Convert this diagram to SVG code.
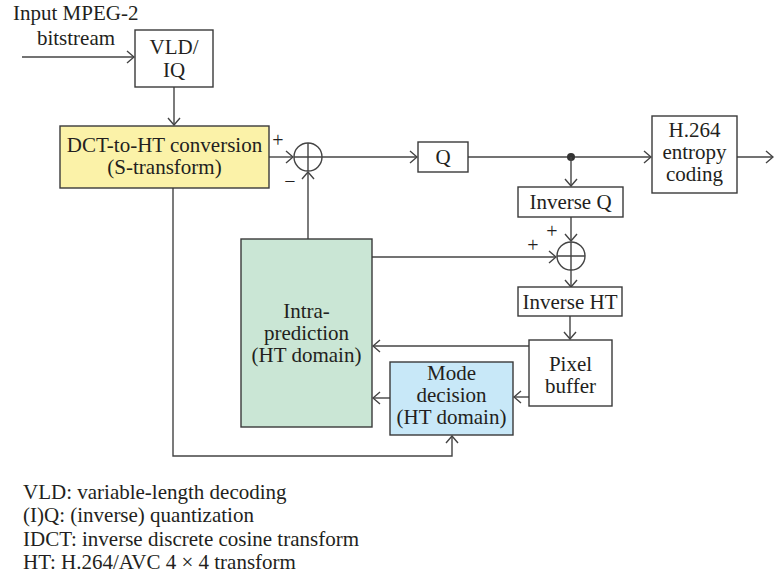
<svg xmlns="http://www.w3.org/2000/svg" width="774" height="581" viewBox="0 0 774 581">
<defs>
<style>
.box{stroke:#3a3a3a;stroke-width:1.4;fill:#fff}
.yellow{fill:#fbf2a8}
.green{fill:#cae6d5}
.blue{fill:#c8e8f8}
.ln{stroke:#444;stroke-width:1.4;fill:none}
.lna{stroke:#444;stroke-width:1.4;fill:none;marker-end:url(#arr)}
text{font-family:"Liberation Serif","Times New Roman",serif;font-size:21px;fill:#231f20}
.c{text-anchor:middle}
.s{font-size:20px}
</style>
<marker id="arr" markerUnits="userSpaceOnUse" viewBox="-9 -8 10 16" refX="0" refY="0" markerWidth="10" markerHeight="16" orient="auto">
<path d="M-7,-6 L0,0 L-7,6" fill="none" stroke="#444" stroke-width="1.4"/>
</marker>
</defs>
<rect width="774" height="581" fill="#fff"/>

<g id="connectors">
<path class="lna" d="M22,57 H134"/>
<path class="lna" d="M174,87 V125"/>
<path class="lna" d="M269,157 H293"/>
<path class="lna" d="M322,157 H417"/>
<path class="lna" d="M468,157 H651"/>
<path class="lna" d="M737,157 H773"/>
<circle cx="571" cy="157" r="4" fill="#333"/>
<path class="lna" d="M571,157 V186"/>
<path class="lna" d="M571,217 V241"/>
<path class="lna" d="M571,270 V287"/>
<path class="lna" d="M570,316 V339"/>
<path class="lna" d="M308,239 V172"/>
<path class="lna" d="M372,257 H556"/>
<path class="lna" d="M529,346 H373"/>
<path class="lna" d="M529,397 H514"/>
<path class="lna" d="M390,398 H373"/>
<path class="lna" d="M173,188 V456 H452 V436"/>
</g>

<g id="input-label">
<text x="13" y="20">Input MPEG-2</text>
<text x="76" y="45" class="c">bitstream</text>
</g>

<g id="vld">
<rect class="box" x="135" y="30" width="78" height="57"/>
<text x="174" y="54" class="c">VLD/</text>
<text x="174" y="77" class="c">IQ</text>
</g>

<g id="dct">
<rect class="box yellow" x="60" y="126" width="209" height="62"/>
<text x="164.5" y="152" class="c">DCT-to-HT conversion</text>
<text x="164.5" y="174" class="c">(S-transform)</text>
</g>

<g id="sum1">
<circle class="ln" cx="308" cy="157" r="14"/>
<path class="ln" d="M294,157 H322 M308,143 V171"/>
<text x="278" y="147" class="c s">+</text>
<text x="290" y="188" class="c s">−</text>
</g>

<g id="q">
<rect class="box" x="418" y="142" width="50" height="30"/>
<text x="443" y="164" class="c">Q</text>
</g>

<g id="entropy">
<rect class="box" x="652" y="116" width="85" height="77"/>
<text x="694.5" y="137" class="c">H.264</text>
<text x="694.5" y="159" class="c">entropy</text>
<text x="694.5" y="181" class="c">coding</text>
</g>

<g id="invq">
<rect class="box" x="518" y="187" width="105" height="30"/>
<text x="570.5" y="209" class="c">Inverse Q</text>
</g>

<g id="sum2">
<circle class="ln" cx="571" cy="256" r="14"/>
<path class="ln" d="M557,256 H585 M571,242 V270"/>
<text x="552" y="238" class="c s">+</text>
<text x="533" y="252" class="c s">+</text>
</g>

<g id="invht">
<rect class="box" x="518" y="287" width="104" height="29"/>
<text x="570" y="309" class="c">Inverse HT</text>
</g>

<g id="pixel">
<rect class="box" x="529" y="340" width="83" height="66"/>
<text x="570.5" y="371" class="c">Pixel</text>
<text x="570.5" y="393" class="c">buffer</text>
</g>

<g id="intra">
<rect class="box green" x="241" y="239" width="131" height="188"/>
<text x="306.5" y="318" class="c">Intra-</text>
<text x="306.5" y="340" class="c">prediction</text>
<text x="306.5" y="362" class="c">(HT domain)</text>
</g>

<g id="mode">
<rect class="box blue" x="390" y="362" width="123" height="73"/>
<text x="451.5" y="380" class="c">Mode</text>
<text x="451.5" y="402" class="c">decision</text>
<text x="451.5" y="424" class="c">(HT domain)</text>
</g>

<g id="legend">
<text x="23" y="499">VLD: variable-length decoding</text>
<text x="23" y="522">(I)Q: (inverse) quantization</text>
<text x="23" y="546">IDCT: inverse discrete cosine transform</text>
<text x="23" y="569">HT: H.264/AVC 4 × 4 transform</text>
</g>
</svg>
